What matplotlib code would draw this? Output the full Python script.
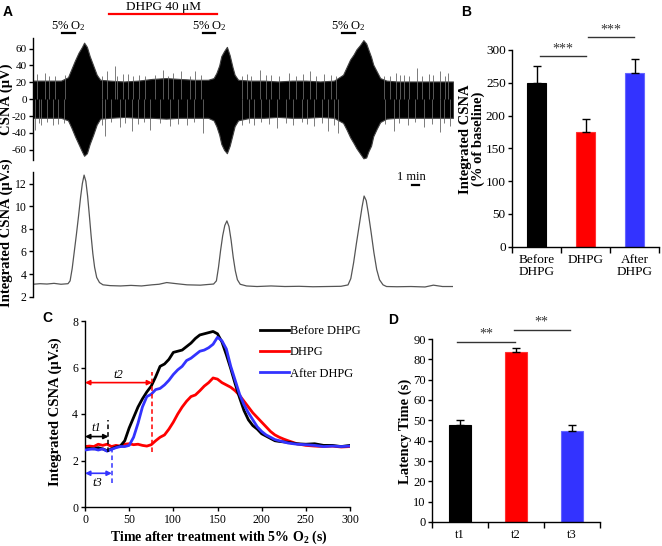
import matplotlib
matplotlib.use("Agg")
import matplotlib.pyplot as plt
from matplotlib.transforms import blended_transform_factory
import numpy as np

plt.rcParams['font.family'] = ['Liberation Serif', 'DejaVu Serif']
plt.rcParams['mathtext.fontset'] = 'custom'
plt.rcParams['mathtext.rm'] = 'Liberation Serif'
plt.rcParams['mathtext.it'] = 'Liberation Serif:italic'
plt.rcParams['mathtext.bf'] = 'Liberation Serif:bold'
plt.rcParams['axes.linewidth'] = 1.0

# ---------------- DATA ----------------
# Panel A: raw CSNA envelope (minutes, µV)
env_time = [0, 2, 4, 5, 5.5, 6, 6.5, 7, 7.3, 7.7, 8.1, 8.6, 9.1, 9.6, 11, 13, 15, 17, 19, 21,
            23, 25, 25.8, 26.2, 26.6, 26.9, 27.3, 27.7, 28.1, 28.5, 28.8, 29.3, 31, 33, 35, 37, 39, 41, 43, 44.3,
            44.8, 45.3, 45.8, 46.2, 46.7, 47.2, 47.6, 47.9, 48.3, 48.6, 49.1, 49.6, 50.5, 52, 54, 56, 58, 60]
env_upper = [22, 22, 22, 26, 36, 46, 55, 62, 67, 62, 51, 40, 29, 23, 22, 21, 22, 24, 25, 24,
             23, 23, 25, 31, 40, 51, 57, 62, 52, 38, 29, 23, 22, 22, 21, 22, 22, 21, 22, 29,
             38, 47, 53, 59, 64, 70, 66, 59, 50, 41, 33, 25, 22, 21, 21, 21, 21, 21]
env_lower = [-22, -22, -22, -25, -34, -44, -53, -62, -67, -64, -53, -42, -30, -23, -22, -21, -22, -22, -23, -22,
             -22, -22, -25, -32, -42, -53, -60, -64, -55, -42, -32, -25, -22, -22, -21, -22, -22, -21, -22, -28,
             -36, -45, -52, -58, -64, -70, -69, -62, -55, -44, -35, -27, -23, -22, -22, -22, -22, -22]
up_spike_time = [0.5, 1.7, 3.2, 10.5, 11.7, 13.5, 15.2, 18.6, 20.0, 21.2, 23.1, 30.5, 32.4, 34.0, 36.5,
                 39.6, 41.5, 51.8, 53.0, 54.8, 56.5, 58.1, 59.3,
                 2.3, 4.5, 9.9, 12.0, 12.9, 14.3, 16.0, 17.4, 19.3, 22.4, 24.0, 29.8, 31.2, 33.3, 35.2, 37.6,
                 38.5, 40.4, 42.6, 43.3, 50.2, 51.0, 52.4, 53.7, 55.6, 57.2, 58.8]
up_spike_val = [30, 31, 28, 34, 39, 30, 29, 35, 31, 33, 34, 30, 35, 29, 31, 34, 30, 31, 29, 37, 30, 33, 31,
                27, 29, 28, 27, 30, 28, 27, 29, 28, 27, 29, 28, 27, 29, 28, 27,
                30, 27, 29, 28, 28, 27, 29, 28, 27, 29, 28]
down_spike_time = [0.3, 1.2, 2.8, 10.3, 12.4, 14.1, 16.7, 19.5, 22.0, 24.3, 31.5, 34.8, 37.2, 40.1, 42.2,
                   43.6, 51.5, 53.6, 55.9, 58.1, 59.5,
                   0.9, 2.0, 3.6, 4.4, 9.8, 11.1, 13.2, 15.0, 15.8, 18.1, 20.7, 23.0, 29.9, 30.8, 32.6, 33.7,
                   36.1, 38.4, 39.2, 41.3, 43.0, 50.3, 52.3, 54.5, 57.0, 58.7]
down_spike_val = [-37, -31, -30, -43, -33, -38, -36, -32, -31, -40, -31, -34, -30, -32, -38, -40, -38, -31,
                  -33, -39, -32,
                  -28, -27, -29, -28, -30, -27, -28, -29, -27, -28, -29, -27, -30, -28, -27, -29,
                  -28, -27, -29, -28, -30, -29, -28, -27, -29, -28]

# Panel A: integrated CSNA (minutes, µV.s)
int_time = [0, 1, 2, 3, 4, 5.0, 5.3, 5.6, 5.9, 6.2, 6.5, 6.8, 7.05, 7.3, 7.55, 7.8, 8.05, 8.3, 8.55, 8.8,
            9.1, 9.5, 10.0, 11, 12.5, 14, 15.5, 17, 18, 19.1, 20.5, 22, 23.9, 25.0, 25.8, 26.2, 26.5, 26.8, 27.1, 27.4,
            27.7, 28.0, 28.3, 28.6, 28.9, 29.2, 29.6, 30.5, 32, 34, 36, 38, 40, 42, 44,
            45.0, 45.4, 45.8, 46.2, 46.6, 47.0, 47.3, 47.6, 47.9, 48.3, 48.7, 49.1, 49.5, 50.0, 50.5,
            52, 54, 56, 57.2, 58.5, 60]
int_val = [3.1, 3.15, 3.12, 3.18, 3.1, 3.15, 3.4, 4.5, 6.0, 7.5, 9.1, 10.8, 12.0, 12.75, 12.2, 10.9, 9.2, 7.4, 5.8, 4.6,
           3.7, 3.25, 3.05, 2.98, 2.95, 3.0, 2.95, 3.05, 3.1, 3.25, 3.15, 3.05, 3.02, 3.08, 3.12, 3.4, 4.6, 6.1, 7.4, 8.3,
           8.7, 8.2, 7.0, 5.5, 4.3, 3.5, 3.1, 2.95, 2.9, 2.95, 2.9, 2.92, 2.88, 2.9, 2.92,
           3.04, 3.6, 5.0, 6.7, 8.3, 9.9, 10.9, 10.5, 9.4, 7.7, 5.9, 4.4, 3.5, 3.05, 2.9,
           2.88, 2.9, 2.86, 3.02, 2.9, 2.9]

# Panel A annotations (minutes)
o2_windows = [(4.1, 6.0), (24.3, 26.0), (44.1, 46.0)]
dhpg_window = (10.9, 26.3)
scale_bar = (54.2, 55.2)

# Panel B
b_labels = ["Before\nDHPG", "DHPG", "After\nDHPG"]
b_vals = [249, 175, 265]
b_err = [26, 20, 22]

# Panel C (seconds, µV.s)
c_time = [0, 5, 10, 15, 20, 25, 30, 35, 40, 45, 50, 55, 60, 65, 70, 75, 80, 85, 90, 95,
          100, 105, 110, 115, 120, 125, 130, 135, 140, 145, 150, 155, 160, 165, 170, 175, 180, 185, 190, 195,
          200, 205, 210, 215, 220, 225, 230, 240, 250, 260, 270, 280, 290, 300]
c_before = [2.5, 2.52, 2.5, 2.55, 2.5, 2.42, 2.5, 2.58, 2.62, 2.85, 3.4, 3.85, 4.3, 4.65, 4.95, 5.2, 5.6, 6.05, 6.15, 6.35,
            6.65, 6.7, 6.75, 6.9, 7.05, 7.25, 7.4, 7.45, 7.5, 7.55, 7.45, 7.1, 6.55, 5.95, 5.3, 4.7, 4.15, 3.75, 3.5, 3.35,
            3.15, 3.05, 2.95, 2.85, 2.82, 2.8, 2.78, 2.72, 2.7, 2.72, 2.65, 2.65, 2.6, 2.65]
c_dhpg = [2.6, 2.62, 2.6, 2.7, 2.65, 2.7, 2.6, 2.65, 2.62, 2.7, 2.72, 2.68, 2.7, 2.65, 2.62, 2.68, 2.85, 3.0, 3.1, 3.35,
          3.65, 4.0, 4.3, 4.55, 4.75, 4.82, 5.0, 5.2, 5.35, 5.55, 5.5, 5.35, 5.25, 5.15, 5.0, 4.8, 4.55, 4.3, 4.05, 3.85,
          3.65, 3.45, 3.25, 3.1, 3.0, 2.92, 2.85, 2.72, 2.65, 2.62, 2.6, 2.62, 2.58, 2.6]
c_after = [2.45, 2.48, 2.5, 2.45, 2.5, 2.4, 2.48, 2.55, 2.6, 2.6, 2.65, 3.0, 3.6, 4.3, 4.75, 4.85, 5.05, 5.1, 5.25, 5.45,
           5.7, 5.9, 6.05, 6.3, 6.4, 6.55, 6.7, 6.75, 6.85, 7.0, 7.3, 7.15, 6.8, 6.05, 5.45, 4.85, 4.4, 4.05, 3.75, 3.45,
           3.25, 3.1, 3.0, 2.9, 2.85, 2.8, 2.75, 2.7, 2.68, 2.65, 2.6, 2.62, 2.6, 2.62]
c_latency = {"t1": 26.6, "t2": 76.0, "t3": 30.4}

# Panel D
d_labels = ["t1", "t2", "t3"]
d_vals = [47.5, 83.8, 45.0]
d_err = [2.8, 1.8, 2.5]

BLACK, RED, BLUE = "#000000", "#ff0000", "#3333ff"

# ---------------- FIGURE ----------------
W, H = 662, 546
fig = plt.figure(figsize=(W / 100, H / 100), dpi=100)


def frac(x0, y0, x1, y1):
    return [x0 / W, 1 - y1 / H, (x1 - x0) / W, (y1 - y0) / H]


def fx(x):
    return x / W


def fy(y):
    return 1 - y / H


def only_left(ax):
    for s in ["top", "right", "bottom"]:
        ax.spines[s].set_visible(False)
    ax.set_xticks([])
    ax.tick_params(axis="y", direction="out", length=3, width=1, pad=1.5)


# ---- Panel A top: raw CSNA ----
axA1 = fig.add_axes(frac(33, 38, 453, 160))
axA1.vlines(up_spike_time, 0, up_spike_val, color="#666666", lw=0.6)
axA1.vlines(down_spike_time, down_spike_val, 0, color="#666666", lw=0.6)
axA1.fill_between(env_time, env_lower, env_upper, color="black", edgecolor="#404040", lw=0.8)
axA1.set_xlim(0, 60)
axA1.set_ylim(-72, 72.5)
axA1.set_yticks([-60, -40, -20, 0, 20, 40, 60])
axA1.set_yticklabels(["-60", "-40", "-20", "0", "20", "40", "60"], fontsize=8)
only_left(axA1)

trA = blended_transform_factory(axA1.transData, axA1.transAxes)
for (a, b) in o2_windows:
    axA1.plot([a, b], [1.041, 1.041], color="black", lw=1.6, transform=trA, clip_on=False)
    axA1.text((a + b) / 2, 1.10, "5% O$_2$", transform=trA, ha="center", va="center", fontsize=9)
axA1.plot(list(dhpg_window), [1.197, 1.197], color=RED, lw=1.6, transform=trA, clip_on=False)
axA1.text(sum(dhpg_window) / 2, 1.255, "DHPG 40 μM", transform=trA, ha="center", va="center", fontsize=9.5)

# ---- Panel A bottom: integrated ----
axA2 = fig.add_axes(frac(33, 171.7, 453, 296.7))
axA2.plot(int_time, int_val, color="#555555", lw=0.9)
axA2.set_xlim(0, 60)
axA2.set_ylim(2, 13.05)
axA2.set_yticks([2, 4, 6, 8, 10, 12])
axA2.set_yticklabels(["2", "4", "6", "8", "10", "12"], fontsize=8.5)
only_left(axA2)
trA2 = blended_transform_factory(axA2.transData, axA2.transAxes)
axA2.plot(list(scale_bar), [0.894, 0.894], color="black", lw=1.6, transform=trA2, clip_on=False)
axA2.text(54.1, 0.958, "1 min", transform=trA2, ha="center", va="center", fontsize=9)

fig.text(fx(6), fy(99), "CSNA (μV)", rotation=90, ha="center", va="center", fontsize=10.5, fontweight="bold")
fig.text(fx(6), fy(233), "Integrated CSNA (μV.s)", rotation=90, ha="center", va="center",
         fontsize=10.5, fontweight="bold")


def bar_panel(ax, labels, vals, errs, width, ymax, yticks, tickfs, xfs):
    x = np.arange(len(vals))
    ax.bar(x, vals, width=width, color=[BLACK, RED, BLUE], edgecolor=[BLACK, "#ff3333", "#6666ff"], lw=0.8,
           zorder=2)
    ax.errorbar(x, vals, yerr=[np.zeros(len(errs)), errs], fmt="none", ecolor="black", elinewidth=1,
                capsize=3, capthick=1, zorder=3)
    ax.set_xlim(-0.5, len(vals) - 0.5)
    ax.set_ylim(0, ymax)
    for s in ["top", "right"]:
        ax.spines[s].set_visible(False)
    ax.set_yticks(yticks)
    ax.set_yticklabels([str(v) for v in yticks], fontsize=tickfs)
    ax.tick_params(axis="y", direction="out", length=3, width=1, pad=1.5)
    ax.set_xticks(x)
    ax.set_xticklabels(labels, fontsize=xfs, linespacing=1.0)
    ax.set_xticks(np.arange(len(vals) + 1) - 0.5, minor=True)
    ax.tick_params(axis="x", which="major", length=0, pad=5)
    ax.tick_params(axis="x", which="minor", direction="out", length=4, width=1)


def sig(ax, x0, x1, y, ytext, label, fs):
    ax.plot([x0, x1], [y, y], color="#333333", lw=1.0, clip_on=False)
    ax.text((x0 + x1) / 2, ytext, label, ha="center", va="center", fontsize=fs, color="#333333")


# ---- Panel B ----
axB = fig.add_axes(frac(512, 50, 659, 246.7))
bar_panel(axB, b_labels, b_vals, b_err, 0.39, 300, [0, 50, 100, 150, 200, 250, 300], 9.5, 9.5)
sig(axB, 0.07, 1.01, 291, 302, "***", 10)
sig(axB, 1.05, 1.99, 320, 331, "***", 10)
fig.text(fx(472), fy(139), "Integrated CSNA\n(% of baseline)", rotation=90, ha="center", va="center",
         fontsize=10.5, fontweight="bold", linespacing=1.0)

# ---- Panel C ----
axC = fig.add_axes(frac(85, 321, 350, 507))
axC.plot(c_time, c_before, color=BLACK, lw=2.0, label="Before DHPG", zorder=3)
axC.plot(c_time, c_dhpg, color=RED, lw=2.0, label="DHPG", zorder=2)
axC.plot(c_time, c_after, color=BLUE, lw=2.0, label="After DHPG", zorder=4)
axC.set_xlim(0, 300)
axC.set_ylim(0, 8)
for s in ["top", "right"]:
    axC.spines[s].set_visible(False)
axC.set_xticks([0, 50, 100, 150, 200, 250, 300])
axC.set_xticklabels(["0", "50", "100", "150", "200", "250", "300"], fontsize=8.5)
axC.set_yticks([0, 2, 4, 6, 8])
axC.set_yticklabels(["0", "2", "4", "6", "8"], fontsize=8.5)
axC.tick_params(direction="out", length=3, width=1, pad=2)

arrow_kw = dict(arrowstyle="<|-|>", lw=1.2, mutation_scale=7, shrinkA=0, shrinkB=0)
# t1
axC.annotate("", xy=(c_latency["t1"], 3.03), xytext=(0, 3.03), arrowprops=dict(color=BLACK, **arrow_kw))
axC.plot([c_latency["t1"]] * 2, [2.35, 3.75], ls=(0, (3, 2)), color=BLACK, lw=1.1, zorder=5)
axC.text(13, 3.38, "t1", style="italic", fontsize=9, ha="center", va="center")
# t2
axC.annotate("", xy=(c_latency["t2"], 5.35), xytext=(0, 5.35), arrowprops=dict(color=RED, **arrow_kw))
axC.plot([c_latency["t2"]] * 2, [2.35, 5.8], ls=(0, (3, 2)), color=RED, lw=1.1, zorder=5)
axC.text(38, 5.68, "t2", style="italic", fontsize=9, ha="center", va="center")
# t3
axC.annotate("", xy=(c_latency["t3"], 1.45), xytext=(0, 1.45), arrowprops=dict(color=BLUE, **arrow_kw))
axC.plot([c_latency["t3"]] * 2, [1.05, 2.6], ls=(0, (3, 2)), color=BLUE, lw=1.1, zorder=5)
axC.text(14, 1.05, "t3", style="italic", fontsize=9, ha="center", va="center")

axC.legend(loc="upper left", bbox_to_anchor=(fx(260), fy(325)), bbox_transform=fig.transFigure,
           frameon=False, fontsize=9, handlelength=2.3, handletextpad=0.1, labelspacing=0.75,
           borderpad=0, borderaxespad=0)
fig.text(fx(55), fy(412), "Integrated CSNA (μV.s)", rotation=90, ha="center", va="center",
         fontsize=10.5, fontweight="bold")
fig.text(fx(219), fy(537), "Time after treatment with 5% O$_\\mathbf{2}$ (s)", ha="center", va="center",
         fontsize=10, fontweight="bold")

# ---- Panel D ----
axD = fig.add_axes(frac(432, 339, 600, 522))
bar_panel(axD, d_labels, d_vals, d_err, 0.41, 90, list(range(0, 91, 10)), 9, 9)
sig(axD, -0.05, 0.98, 88.5, 92.3, "**", 10)
sig(axD, 0.96, 1.96, 94.4, 98.2, "**", 10)
fig.text(fx(405), fy(431), "Latency Time (s)", rotation=90, ha="center", va="center",
         fontsize=10.5, fontweight="bold")

# Panel letters
for lab, (x, y) in {"A": (8, 12), "B": (466, 12), "C": (47, 318), "D": (393, 320)}.items():
    fig.text(fx(x), fy(y), lab, ha="center", va="center", fontsize=10, fontweight="bold",
             family="Liberation Sans")

fig.savefig("out.png", dpi=100)
